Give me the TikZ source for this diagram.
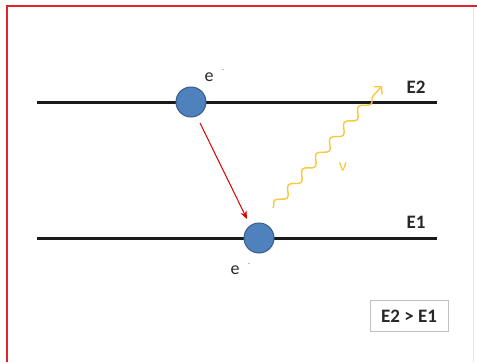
\documentclass[tikz,border=0pt]{standalone}
\usepackage{fontspec}
\setmainfont{Carlito}
\usetikzlibrary{arrows.meta,decorations.pathmorphing}
\definecolor{frame}{RGB}{225,35,45}
\definecolor{ballfill}{RGB}{79,129,189}
\definecolor{ballline}{RGB}{56,93,138}
\definecolor{photon}{RGB}{250,200,60}
\definecolor{txt}{RGB}{40,40,40}
\begin{document}
\begin{tikzpicture}[x=1pt,y=-1pt,
  level/.style={line width=3pt,black!90},
  ball/.style={circle,minimum size=30pt,inner sep=0pt,fill=ballfill,draw=ballline,line width=1pt},
  elabel/.style={font=\fontsize{18}{18}\selectfont,text=txt,inner sep=0pt},
  minuslabel/.style={font=\fontsize{8}{8}\selectfont,text=gray,inner sep=0pt},
  elevel/.style={font=\bfseries\fontsize{19}{19}\selectfont,text=txt,inner sep=0pt}]
\useasboundingbox (0,0) rectangle (477,362);
\fill[white] (0,0) rectangle (477,362);
\draw[gray!20,line width=0.8pt] (473,6) -- (473,362);
\draw[frame,line width=2pt] (7,362) -- (7,6) -- (477,6);
% levels
\coordinate (a2) at (37,102); \coordinate (b2) at (437,102);
\coordinate (a1) at (37,238); \coordinate (b1) at (437,238);
\draw[level] (a2) -- (b2);
\draw[level] (a1) -- (b1);
\node[ball] (u) at (191,102) {};
\node[ball] (d) at (259,238) {};
\node[elabel] (eu) at (209,77) {e};
\node[minuslabel] (mu) at (223,71) {-};
\node[elabel] (ed) at (235,270) {e};
\node[minuslabel] (md) at (249,265) {-};
\node[elevel] (E2) at (416,87) {E2};
\node[elevel] (E1) at (416,222) {E1};
% transition
\coordinate (rs) at (200,123);
\coordinate (re) at (247,219);
\draw[red!85!black,line width=1pt,-{Stealth[length=8pt,width=6.5pt]}] (rs) -- (re);
% photon
\coordinate (ps) at (273,208);
\coordinate (pe) at (382,86);
\draw[photon,line width=1.4pt,decorate,decoration={snake,segment length=21pt,amplitude=4pt,post length=4pt},-{Straight Barb[length=5pt,width=11pt]}] (ps) -- (pe);
\node[font=\fontsize{18}{18}\selectfont,text=photon,inner sep=0pt] (nu) at (343,167) {ν};
% box
\node[draw=gray!50,line width=0.8pt,minimum width=78pt,minimum height=31pt,inner sep=0pt,font=\bfseries\fontsize{19}{19}\selectfont,text=txt] (cmp) at (409,316) {E2 > E1};
\end{tikzpicture}
\end{document}
